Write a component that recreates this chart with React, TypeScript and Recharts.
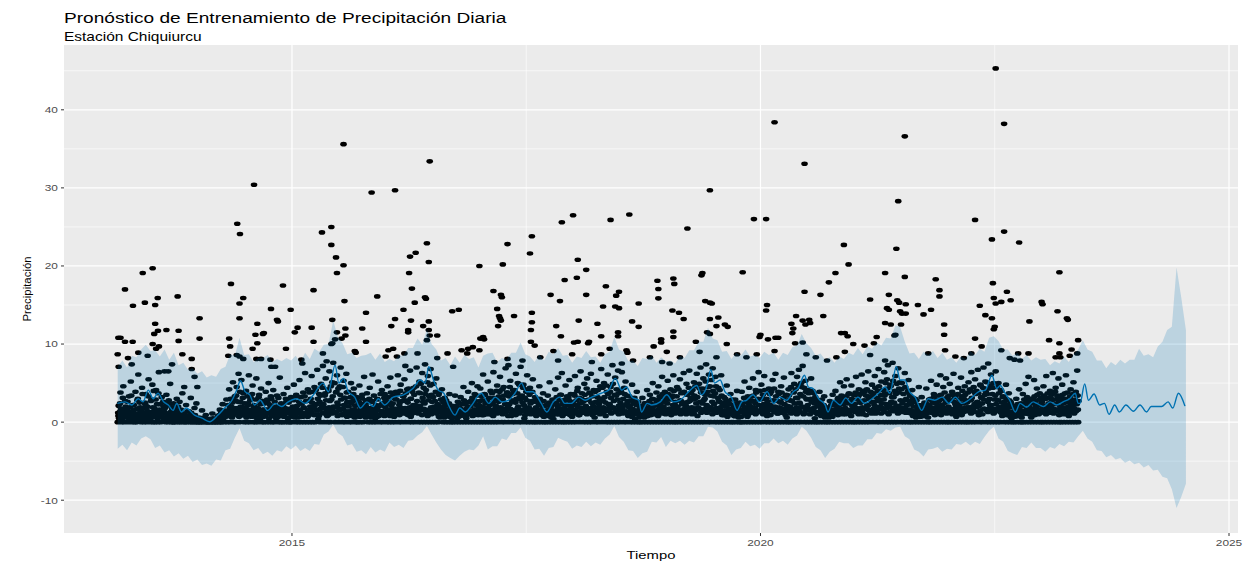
import React from 'react';
import { ComposedChart, Scatter, Line, Area, XAxis, YAxis, CartesianGrid } from 'recharts';

/* ── Tema ── */
const FONT = '"Liberation Sans", Arial, Helvetica, sans-serif';
const C = { panel: '#EBEBEB', grid: '#FFFFFF', azul: '#0072B2', punto: '#000000', eje: '#4D4D4D', tick: '#333333' };

/* ── Ejes ── */
const xTicks = [2015, 2020, 2025];
const xMenores = [2017.5, 2022.5];
const yTicks = [-10, 0, 10, 20, 30, 40];
const yMenores = [-5, 5, 15, 25, 35, 45];
const xDominio = [2012.567, 2025.096];
const yDominio = [-14.2, 48.3];

/* ── Intervalo de incertidumbre (cada 0.05 años desde 2013.14) ── */
const bandaInicio = 2013.14;
const bandaPaso = 0.05;
const bandaSup = [
  7.1, 7.9, 7.0, 8.5, 8.3, 9.3, 9.9, 9.1, 9.2, 8.4, 9.3, 8.0, 8.9, 7.3, 7.6, 6.7, 6.9, 6.2, 6.5, 5.7,
  6.0, 5.8, 6.8, 7.1, 8.7, 8.5, 10.8, 8.6, 8.7, 7.7, 8.2, 8.2, 8.6, 7.7, 8.1, 7.8, 8.2, 7.9, 8.5,
  7.6, 8.9, 8.1, 9.4, 9.0, 9.9, 10.0, 13.0, 10.9, 10.1, 8.7, 8.9, 8.2, 8.5, 8.6, 8.9, 8.0, 8.8, 7.7, 8.1,
  7.8, 8.6, 8.5, 9.5, 9.5, 10.7, 9.9, 11.9, 10.0, 9.3, 7.9, 8.2, 7.3, 8.4, 7.6, 8.6, 8.1, 8.3, 7.0,
  8.5, 8.8, 8.9, 7.7, 8.2, 8.0, 8.9, 8.9, 10.2, 8.7, 8.4, 7.7, 8.7, 7.9, 9.0, 8.7, 9.5, 8.5, 8.6, 7.6,
  8.4, 8.2, 9.1, 8.3, 8.4, 7.6, 8.7, 9.0, 10.9, 9.3, 9.0, 7.8, 7.9, 7.2, 8.2, 8.1, 8.5, 7.6, 8.3,
  7.8, 7.9, 7.5, 8.5, 8.2, 9.2, 9.2, 10.3, 10.3, 12.1, 10.7, 10.5, 9.0, 9.1, 8.1, 8.9, 8.5, 9.3, 8.4, 8.6,
  8.2, 9.0, 8.6, 8.9, 8.0, 8.9, 8.6, 9.6, 9.8, 11.3, 10.1, 9.5, 8.5, 8.8, 8.0, 8.3, 7.6, 8.4, 8.1,
  8.9, 8.6, 9.5, 8.7, 9.7, 9.4, 10.2, 9.8, 10.8, 10.7, 12.4, 12.2, 10.3, 8.8, 8.9, 8.1, 9.0, 8.6, 9.1, 8.2,
  8.9, 8.0, 8.3, 7.6, 8.4, 8.1, 9.1, 8.6, 9.4, 9.0, 10.8, 11.0, 10.4, 9.3, 9.3, 8.5, 8.9, 8.1, 8.6,
  7.9, 8.3, 8.0, 8.1, 7.3, 7.8, 7.5, 8.4, 7.7, 8.7, 9.3, 10.5, 9.3, 9.0, 7.9, 7.9, 6.9, 7.7, 7.3, 8.0,
  7.5, 8.0, 8.0, 9.4, 8.5, 8.7, 8.3, 9.7, 10.3, 11.8, 12.2, 19.8, 16.0, 11.8,
];
const bandaInf = [
  -3.4, -2.9, -3.6, -2.6, -3.0, -2.1, -1.8, -2.2, -3.3, -3.0, -3.9, -3.6, -4.4, -4.0, -4.7, -4.3, -5.1, -4.8, -5.5, -5.3,
  -5.6, -4.8, -4.9, -3.6, -3.4, -2.0, -0.8, -2.4, -2.7, -3.6, -3.3, -4.1, -3.8, -4.3, -3.6, -3.8, -3.1, -3.5, -3.0,
  -3.7, -3.3, -3.7, -2.8, -2.9, -1.6, -1.2, -0.3, -1.4, -1.8, -3.0, -2.8, -3.8, -3.6, -4.1, -3.2, -3.9, -3.5, -3.8, -2.6,
  -3.2, -2.9, -3.3, -2.4, -2.3, -1.7, -1.3, -0.5, -1.6, -2.6, -3.5, -4.2, -4.6, -4.9, -4.3, -3.8, -3.5, -3.6, -3.0,
  -1.8, -3.5, -3.1, -3.1, -2.1, -2.3, -1.4, -1.4, -0.7, -2.0, -2.4, -3.5, -3.4, -4.3, -3.3, -3.2, -2.0, -2.3, -2.5, -3.4,
  -3.0, -3.2, -2.5, -3.1, -2.6, -2.9, -2.1, -1.6, -0.5, -1.9, -2.5, -3.6, -3.7, -4.6, -4.0, -3.8, -2.5, -2.6, -1.9,
  -3.2, -2.4, -2.7, -2.4, -2.9, -2.4, -2.6, -1.8, -1.8, -0.6, -0.7, -1.2, -2.5, -3.0, -4.2, -3.5, -3.3, -2.5, -3.1, -2.9,
  -3.4, -2.7, -2.7, -2.1, -2.7, -2.4, -2.9, -2.1, -1.7, -0.6, -1.1, -2.0, -3.2, -3.6, -4.6, -3.8, -3.4, -2.5, -2.7,
  -2.7, -3.3, -3.0, -3.0, -2.2, -2.2, -1.4, -1.5, -0.9, -1.1, -0.7, -0.6, -1.8, -2.2, -3.5, -3.8, -4.4, -3.5, -3.4, -3.2,
  -3.8, -3.4, -3.5, -2.8, -2.9, -2.5, -3.0, -2.5, -2.8, -1.9, -1.1, -0.6, -2.1, -2.5, -3.7, -4.0, -4.2, -3.2, -3.3,
  -2.6, -3.3, -3.3, -3.8, -3.2, -3.4, -2.8, -3.1, -2.5, -2.6, -1.8, -1.1, -2.1, -2.5, -3.6, -3.7, -4.5, -4.2, -4.8, -4.6,
  -5.2, -4.9, -5.4, -5.2, -5.8, -5.5, -6.2, -6.1, -7.0, -7.2, -8.6, -11.0, -9.6, -7.9,
];

/* ── Pronóstico (yhat) ── */
const yhat: [number, number][] = [
  [2013.136, 2.4], [2013.218, 2.6], [2013.29, 2.2], [2013.36, 3.0], [2013.41, 2.6], [2013.467, 4.1], [2013.52, 3.0],
  [2013.57, 3.7], [2013.63, 2.6], [2013.68, 2.2], [2013.73, 1.5], [2013.77, 2.4], [2013.82, 1.3], [2013.87, 1.8],
  [2013.96, 0.9], [2014.04, 0.5], [2014.12, 0.05], [2014.21, 0.9], [2014.28, 1.8], [2014.36, 2.8], [2014.41, 4.1],
  [2014.45, 5.3], [2014.5, 3.9], [2014.55, 3.5], [2014.6, 2.2], [2014.66, 2.8], [2014.74, 1.5], [2014.82, 2.4],
  [2014.89, 2.0], [2014.96, 2.6], [2015.05, 3.0], [2015.14, 2.4], [2015.23, 3.5], [2015.33, 5.0], [2015.39, 3.9],
  [2015.46, 7.3], [2015.5, 5.0], [2015.55, 5.6], [2015.6, 3.9], [2015.67, 3.2], [2015.73, 1.8], [2015.8, 2.6],
  [2015.87, 2.0], [2015.92, 3.0], [2015.99, 2.2], [2016.08, 3.2], [2016.19, 3.5], [2016.29, 4.3], [2016.37, 5.4],
  [2016.42, 5.0], [2016.46, 7.1], [2016.51, 5.4], [2016.56, 4.1], [2016.62, 3.7], [2016.67, 2.2], [2016.74, 0.9],
  [2016.79, 1.8], [2016.85, 1.3], [2016.92, 2.2], [2017.02, 3.7], [2017.1, 2.4], [2017.17, 3.2], [2017.24, 2.6],
  [2017.31, 2.8], [2017.38, 3.7], [2017.45, 5.0], [2017.5, 3.9], [2017.57, 3.9], [2017.66, 2.4], [2017.72, 1.3],
  [2017.79, 2.6], [2017.86, 3.2], [2017.91, 2.4], [2017.98, 2.4], [2018.06, 3.2], [2018.13, 2.8], [2018.2, 3.2],
  [2018.3, 3.7], [2018.38, 4.1], [2018.45, 5.6], [2018.52, 4.1], [2018.57, 4.5], [2018.63, 3.2], [2018.7, 2.8],
  [2018.73, 1.3], [2018.79, 2.4], [2018.84, 2.2], [2018.93, 2.6], [2019.0, 3.5], [2019.07, 2.6], [2019.14, 2.8],
  [2019.25, 4.1], [2019.32, 4.7], [2019.37, 3.5], [2019.42, 4.3], [2019.47, 6.7], [2019.51, 5.0], [2019.57, 5.4],
  [2019.62, 3.9], [2019.69, 3.2], [2019.75, 1.5], [2019.8, 2.6], [2019.85, 2.8], [2019.92, 3.5], [2019.99, 2.6],
  [2020.07, 3.9], [2020.14, 2.4], [2020.21, 3.2], [2020.28, 2.8], [2020.35, 3.9], [2020.4, 4.3], [2020.47, 6.0],
  [2020.51, 4.5], [2020.56, 4.3], [2020.62, 3.0], [2020.69, 2.2], [2020.72, 1.3], [2020.78, 2.8], [2020.85, 2.2],
  [2020.91, 3.1], [2020.97, 2.4], [2021.04, 3.2], [2021.11, 2.4], [2021.19, 3.0], [2021.26, 3.7], [2021.33, 4.5],
  [2021.38, 3.7], [2021.45, 7.1], [2021.49, 5.4], [2021.54, 5.4], [2021.59, 3.9], [2021.65, 3.2], [2021.72, 1.5],
  [2021.79, 3.0], [2021.86, 2.8], [2021.94, 3.2], [2022.01, 2.4], [2022.08, 3.2], [2022.15, 2.4], [2022.22, 2.8],
  [2022.33, 3.9], [2022.4, 4.1], [2022.47, 6.0], [2022.52, 4.3], [2022.56, 4.7], [2022.61, 3.7], [2022.66, 2.8],
  [2022.72, 1.3], [2022.77, 2.4], [2022.84, 1.9], [2022.91, 2.6], [2022.95, 2.4], [2023.02, 2.0], [2023.09, 2.6],
  [2023.16, 2.2], [2023.23, 2.6], [2023.3, 3.0], [2023.36, 3.7], [2023.39, 2.4], [2023.41, 2.4], [2023.46, 4.9],
  [2023.5, 2.8], [2023.56, 3.6], [2023.62, 2.2], [2023.67, 2.4], [2023.72, 1.0], [2023.78, 2.2], [2023.83, 1.3],
  [2023.9, 2.2], [2023.98, 1.4], [2024.05, 2.2], [2024.12, 1.3], [2024.17, 2.0], [2024.28, 2.0], [2024.35, 2.6],
  [2024.4, 1.8], [2024.46, 3.7], [2024.53, 2.05],
];

/* ── Observaciones: días de lluvia intensa ── */
const picos: [number, number][] = [
  [2013.147, 10.8], [2013.17, 10.8], [2013.14, 8.7], [2013.15, 7.1], [2013.218, 17.0], [2013.218, 10.3], [2013.25, 8.2],
  [2013.29, 7.4], [2013.303, 14.9], [2013.3, 10.3], [2013.36, 8.9], [2013.407, 19.1], [2013.43, 15.3], [2013.46, 8.5],
  [2013.513, 19.7], [2013.513, 10.0], [2013.53, 11.3], [2013.54, 15.0], [2013.54, 12.6], [2013.55, 9.4], [2013.567, 15.9],
  [2013.57, 11.7], [2013.58, 9.7], [2013.64, 6.5], [2013.66, 11.8], [2013.68, 6.5], [2013.72, 7.4], [2013.78, 16.1],
  [2013.79, 11.7], [2013.79, 10.4], [2013.83, 8.7], [2013.85, 4.5], [2013.93, 8.1], [2013.93, 6.8], [2013.96, 5.8],
  [2013.99, 4.5],
  [2014.014, 13.3], [2014.014, 10.7], [2014.32, 8.5], [2014.33, 10.7], [2014.34, 9.7], [2014.349, 17.7], [2014.41, 8.6],
  [2014.416, 25.4], [2014.44, 15.2], [2014.44, 13.3], [2014.44, 8.4], [2014.445, 24.1], [2014.48, 15.9], [2014.48, 8.1],
  [2014.58, 9.4], [2014.595, 30.4], [2014.61, 11.2], [2014.62, 8.1], [2014.63, 12.6], [2014.63, 10.1], [2014.67, 8.1],
  [2014.69, 11.3], [2014.7, 11.4], [2014.77, 8.0], [2014.776, 14.5], [2014.78, 7.1], [2014.82, 7.1], [2014.84, 13.1],
  [2014.85, 12.9], [2014.904, 17.5], [2014.936, 9.4], [2014.986, 14.4],
  [2015.03, 11.5], [2015.06, 12.1], [2015.1, 8.0], [2015.11, 7.5], [2015.21, 12.1], [2015.23, 16.9], [2015.23, 10.3],
  [2015.32, 24.3], [2015.33, 8.8], [2015.37, 7.8], [2015.42, 25.0], [2015.42, 22.7], [2015.42, 10.0], [2015.43, 13.1],
  [2015.43, 10.1], [2015.46, 10.6], [2015.47, 21.1], [2015.48, 19.1], [2015.48, 11.5], [2015.53, 10.7], [2015.55, 35.6],
  [2015.55, 20.1], [2015.56, 15.5], [2015.57, 12.0], [2015.57, 11.1], [2015.67, 9.1], [2015.68, 8.9], [2015.75, 12.0],
  [2015.79, 14.0], [2015.79, 10.3], [2015.85, 29.4], [2015.91, 16.1],
  [2016.0, 8.4], [2016.03, 9.2], [2016.06, 12.3], [2016.08, 9.4], [2016.1, 29.7], [2016.1, 13.2], [2016.12, 8.4],
  [2016.19, 14.4], [2016.2, 8.8], [2016.21, 7.2], [2016.24, 11.5], [2016.24, 11.8], [2016.25, 19.1], [2016.26, 21.2],
  [2016.27, 13.0], [2016.28, 17.1], [2016.31, 15.3], [2016.32, 21.7], [2016.34, 8.8], [2016.4, 12.3], [2016.42, 16.0],
  [2016.43, 15.8], [2016.44, 22.9], [2016.44, 10.5], [2016.46, 20.5], [2016.46, 12.9], [2016.46, 11.8], [2016.47, 33.4],
  [2016.47, 11.1], [2016.55, 11.1], [2016.55, 8.2], [2016.66, 8.8], [2016.71, 14.2], [2016.72, 7.1], [2016.78, 14.4],
  [2016.81, 9.2], [2016.87, 8.8], [2016.88, 9.4], [2016.93, 9.6],
  [2017.0, 20.0], [2017.0, 9.2], [2017.01, 10.7], [2017.04, 10.9], [2017.05, 10.6], [2017.15, 16.8], [2017.16, 7.7],
  [2017.19, 14.5], [2017.2, 12.3], [2017.21, 13.6], [2017.22, 13.3], [2017.23, 13.0], [2017.23, 16.3], [2017.24, 16.0],
  [2017.25, 20.2], [2017.3, 22.8], [2017.3, 8.1], [2017.31, 7.3], [2017.37, 13.6], [2017.46, 7.9], [2017.54, 21.6],
  [2017.55, 11.8], [2017.55, 10.3], [2017.56, 23.8], [2017.56, 14.0], [2017.56, 12.8], [2017.59, 9.8], [2017.65, 8.3],
  [2017.76, 16.3], [2017.79, 9.1], [2017.82, 12.3], [2017.84, 7.9], [2017.86, 15.5], [2017.87, 11.0], [2017.88, 25.6],
  [2017.91, 18.2], [2017.99, 8.7],
  [2018.0, 26.5], [2018.01, 10.2], [2018.04, 18.5], [2018.05, 20.8], [2018.05, 10.3], [2018.06, 13.0], [2018.14, 19.5],
  [2018.14, 16.3], [2018.16, 10.1], [2018.17, 10.3], [2018.2, 7.7], [2018.26, 12.6], [2018.3, 11.0], [2018.3, 8.7],
  [2018.32, 14.8], [2018.35, 17.4], [2018.39, 9.4], [2018.4, 25.9], [2018.45, 14.8], [2018.46, 16.2], [2018.48, 11.5],
  [2018.48, 11.0], [2018.49, 16.7], [2018.49, 14.6], [2018.52, 7.5], [2018.57, 9.2], [2018.58, 8.9], [2018.6, 26.6],
  [2018.63, 12.9], [2018.64, 7.9], [2018.7, 15.2], [2018.7, 12.2], [2018.82, 8.3], [2018.86, 9.7], [2018.9, 18.1],
  [2018.91, 17.05], [2018.91, 15.85], [2018.94, 10.2], [2018.94, 10.6], [2018.95, 7.7],
  [2019.0, 9.0], [2019.03, 7.5], [2019.06, 14.3], [2019.07, 18.4], [2019.07, 11.6], [2019.07, 10.9], [2019.08, 17.7],
  [2019.13, 14.0], [2019.14, 8.3], [2019.18, 13.2], [2019.22, 24.8], [2019.31, 10.3], [2019.35, 9.0], [2019.37, 18.8],
  [2019.38, 19.1], [2019.41, 15.5], [2019.43, 11.5], [2019.46, 29.7], [2019.46, 15.3], [2019.46, 13.2], [2019.46, 11.3],
  [2019.48, 15.2], [2019.53, 12.3], [2019.53, 8.3], [2019.55, 13.4], [2019.62, 12.5], [2019.64, 10.0], [2019.65, 12.2],
  [2019.75, 8.7], [2019.81, 19.2], [2019.85, 8.3], [2019.93, 26.0], [2019.96, 8.7], [2019.99, 10.9],
  [2020.0, 11.2], [2020.06, 26.0], [2020.06, 14.3], [2020.07, 15.0], [2020.08, 10.6], [2020.15, 38.4], [2020.15, 9.1],
  [2020.16, 10.8], [2020.19, 10.8], [2020.33, 12.6], [2020.34, 11.4], [2020.35, 12.0], [2020.37, 10.1], [2020.38, 13.6],
  [2020.45, 13.0], [2020.45, 10.2], [2020.47, 33.1], [2020.47, 16.7], [2020.48, 12.5], [2020.49, 8.7], [2020.52, 13.1],
  [2020.53, 12.7], [2020.59, 8.3], [2020.64, 16.3], [2020.67, 13.6], [2020.71, 7.9], [2020.73, 17.9], [2020.8, 19.1],
  [2020.81, 8.3], [2020.86, 11.4], [2020.89, 22.7], [2020.9, 11.4], [2020.9, 9.0], [2020.93, 11.0], [2020.94, 20.2],
  [2020.99, 10.0],
  [2021.11, 9.8], [2021.17, 15.7], [2021.17, 8.6], [2021.21, 10.1], [2021.24, 10.9], [2021.33, 19.1], [2021.33, 12.7],
  [2021.33, 7.9], [2021.35, 14.6], [2021.37, 16.3], [2021.37, 14.4], [2021.39, 12.5], [2021.43, 11.1], [2021.44, 11.2],
  [2021.45, 22.2], [2021.46, 15.6], [2021.47, 28.3], [2021.48, 15.3], [2021.49, 14.2], [2021.5, 12.5], [2021.51, 13.9],
  [2021.54, 36.6], [2021.54, 18.6], [2021.55, 15.1], [2021.55, 13.9], [2021.68, 15.0], [2021.74, 13.8], [2021.79, 8.8],
  [2021.82, 14.4], [2021.87, 18.3], [2021.91, 16.9], [2021.91, 16.1], [2021.96, 12.5], [2021.96, 11.2], [2021.97, 9.2],
  [2022.08, 8.4], [2022.17, 8.2], [2022.25, 8.8], [2022.29, 25.9], [2022.29, 10.7], [2022.34, 14.9], [2022.36, 9.7],
  [2022.4, 13.7], [2022.47, 23.4], [2022.47, 13.3], [2022.48, 17.8], [2022.49, 15.9], [2022.49, 11.9], [2022.5, 12.2],
  [2022.51, 45.3], [2022.51, 15.2], [2022.57, 15.4], [2022.57, 9.2], [2022.6, 38.2], [2022.6, 24.4], [2022.63, 16.7],
  [2022.66, 8.2], [2022.67, 15.6], [2022.71, 8.0], [2022.75, 8.8], [2022.76, 23.0], [2022.77, 7.9], [2022.86, 8.8],
  [2022.87, 12.9],
  [2023.0, 15.4], [2023.01, 15.1], [2023.08, 10.5], [2023.15, 8.3], [2023.17, 14.2], [2023.19, 19.2], [2023.19, 10.1],
  [2023.19, 8.8], [2023.2, 8.3], [2023.27, 13.3], [2023.28, 13.1], [2023.3, 8.5], [2023.32, 9.3], [2023.38, 8.8],
  [2023.39, 10.5],
];

/* ── Observaciones: lluvia diaria baja, una lectura cada 0.01 años ── */
const lluvia2013 = [
  0, 2.1, 0.4, 3.8, 0, 1.2, 4.6, 0, 2.7, 0.8, 1.6, 0, 3.3, 0.5, 5.2, 0, 2.2, 1.0, 0, 3.9,
  0, 2.8, 6.1, 0.3, 1.9, 0, 4.4, 1.1, 0, 2.5, 3.6, 0, 1.4, 5.5, 0.7, 0, 2.9, 4.8, 0, 1.8,
  0, 4.1, 2.3, 0, 6.4, 1.0, 0, 3.2, 0.6, 2.0, 1.3, 0, 3.5, 0.2, 0, 2.4, 4.9, 0, 1.5, 0,
  0, 1.9, 0, 3.0, 0.4, 0, 2.6, 0, 1.1, 3.7, 0, 0.9, 0, 2.2, 0, 0.3, 1.4, 0, 3.1, 0,
  0.5, 0, 1.8, 0, 2.4, 0,
];
const lluvia2014 = [
  0, 0.6, 0, 0, 1.5, 0, 0.2, 0, 0.9, 0, 0, 0, 0.4, 0, 0, 1.1, 0, 0, 0.3, 0,
  0, 0.8, 0, 1.6, 0, 0, 2.3, 0.5, 0, 1.2, 2.9, 0, 1.4, 4.2, 0, 2.0, 0.6, 5.1, 0, 3.3,
  0, 4.5, 1.8, 6.2, 0, 2.6, 5.4, 0.9, 3.7, 0, 1.5, 4.0, 0, 2.4, 6.0, 0, 3.1, 0.7, 4.7, 0,
  2.2, 0, 5.6, 1.3, 0, 3.5, 0.4, 4.3, 0, 2.7, 0, 1.6, 3.9, 0, 2.5, 5.0, 0, 1.2, 3.0, 0,
  4.1, 0, 1.9, 0.5, 3.4, 0, 2.1, 5.7, 0, 1.0, 0, 3.6, 0.8, 0, 2.6, 4.4, 0, 1.7, 0, 3.2,
];
const lluvia2015 = [
  0, 2.0, 4.8, 0.6, 0, 3.3, 1.5, 0, 5.4, 2.4, 0, 1.1, 3.8, 0, 6.3, 2.7, 0, 4.2, 0.9, 0,
  3.0, 5.9, 0, 1.8, 4.5, 0, 2.3, 6.7, 0.4, 3.6, 0, 4.9, 2.1, 7.2, 0, 3.4, 5.6, 1.2, 0, 4.0,
  6.5, 0, 2.9, 5.1, 7.6, 1.4, 0, 3.8, 6.0, 2.2, 0, 4.6, 7.0, 1.7, 0, 5.3, 3.1, 0, 6.2, 2.5,
  3.9, 0, 1.3, 5.0, 0, 2.7, 4.3, 0.6, 0, 3.2, 0, 2.4, 4.7, 0, 1.6, 3.5, 0, 5.8, 0.8, 2.0,
  3.7, 0, 1.2, 4.4, 0, 2.6, 6.1, 0, 1.9, 0.5, 0, 3.0, 5.2, 0.9, 0, 2.2, 4.1, 0, 1.4, 3.6,
];
const lluvia2016 = [
  2.8, 0, 4.6, 1.3, 0, 5.7, 2.1, 0, 3.4, 0.7, 0, 3.9, 1.6, 6.0, 0, 2.5, 4.8, 0, 1.1, 3.3,
  5.5, 0, 2.7, 4.2, 0.9, 0, 6.6, 3.0, 0, 1.8, 4.4, 0, 2.2, 7.0, 1.5, 0, 5.2, 3.7, 0, 6.3,
  2.6, 0, 7.4, 4.1, 0, 5.9, 1.3, 0, 6.8, 3.5, 0, 4.9, 2.0, 0, 5.6, 1.7, 0, 3.8, 0.6, 2.9,
  4.2, 0, 1.5, 3.1, 0, 2.4, 0.8, 0, 3.6, 1.0, 0, 2.1, 0, 1.3, 3.4, 0, 0.7, 2.6, 0, 1.8,
  3.2, 0, 1.6, 4.5, 0, 2.3, 0.5, 0, 3.9, 1.2, 0, 2.7, 5.0, 0, 1.4, 3.6, 0, 2.2, 4.6, 0,
];
const lluvia2017 = [
  1.9, 4.3, 0, 2.8, 6.1, 0, 3.5, 1.0, 0, 5.2, 2.4, 0, 4.0, 1.5, 0, 6.4, 3.1, 0, 2.0, 4.7,
  0, 3.3, 5.8, 1.2, 0, 2.9, 4.5, 0, 6.9, 1.7, 3.8, 0, 2.3, 5.3, 0.8, 0, 4.1, 2.6, 0, 6.2,
  1.4, 5.0, 0, 3.2, 7.1, 0, 2.5, 4.8, 0.5, 0, 3.9, 6.0, 0, 1.8, 4.4, 0, 2.7, 5.5, 0, 1.1,
  0, 3.0, 1.6, 0, 4.6, 2.2, 0, 0.9, 3.7, 0, 2.1, 0, 1.0, 3.4, 0, 5.1, 1.8, 0, 2.9, 0.4,
  0, 4.2, 2.4, 0, 5.7, 1.3, 0, 3.5, 6.3, 0, 2.6, 0, 4.7, 1.1, 0, 3.1, 5.4, 0, 2.0, 0.7,
];
const lluvia2018 = [
  0, 3.6, 5.9, 0, 2.2, 4.4, 0.9, 0, 6.5, 3.0, 1.5, 0, 4.9, 2.8, 0, 5.6, 1.2, 0, 3.7, 6.2,
  0, 2.4, 4.1, 0.6, 0, 5.3, 3.2, 0, 1.9, 4.6, 6.8, 0, 2.7, 5.0, 1.4, 0, 3.9, 6.1, 0, 2.3,
  4.5, 0, 7.3, 1.8, 0, 5.7, 3.4, 0, 6.6, 2.1, 0, 4.0, 6.4, 1.1, 0, 3.6, 5.2, 0, 2.5, 0.8,
  3.3, 0, 1.7, 4.8, 0, 2.6, 0.4, 0, 3.9, 1.2, 0, 2.0, 0, 1.4, 3.1, 0, 0.6, 2.4, 0, 4.1,
  1.8, 0, 3.5, 0.9, 0, 5.0, 2.2, 0, 1.3, 3.8, 0, 4.6, 2.0, 0, 3.2, 5.8, 0, 1.5, 3.9, 0,
];
const lluvia2019 = [
  2.9, 5.3, 0, 1.6, 4.2, 0, 3.4, 6.0, 0, 2.1, 0, 4.5, 1.3, 0, 5.5, 2.7, 0, 3.8, 6.3, 0,
  1.9, 4.9, 0, 2.6, 6.6, 0, 3.7, 1.0, 0, 5.1, 3.0, 0, 6.2, 1.7, 0, 4.3, 7.0, 0, 2.4, 5.6,
  0, 3.5, 7.4, 2.0, 0, 6.1, 4.6, 0, 1.5, 6.9, 3.3, 0, 5.8, 1.2, 0, 4.4, 2.6, 0, 6.0, 0.9,
  0, 3.2, 1.5, 0, 4.7, 2.3, 0, 1.1, 3.6, 0, 1.7, 0, 0.8, 2.9, 0, 4.0, 1.3, 0, 2.5, 0,
  3.9, 0, 1.6, 5.2, 0, 2.8, 0.7, 0, 4.4, 2.0, 0, 3.3, 5.6, 0, 1.8, 4.1, 0, 2.9, 6.4, 0,
];
const lluvia2020 = [
  1.4, 4.8, 0, 3.0, 5.9, 0, 2.2, 0.8, 0, 4.3, 3.6, 0, 1.9, 5.4, 0, 2.7, 6.2, 0, 1.1, 3.9,
  0, 2.5, 4.6, 0, 1.3, 5.7, 0, 3.4, 0.6, 0, 4.2, 0, 2.8, 6.3, 0, 1.6, 4.9, 0, 3.1, 5.8,
  0, 6.7, 2.4, 0, 4.5, 7.2, 1.0, 0, 5.3, 3.0, 0, 4.1, 1.7, 0, 5.6, 2.9, 0, 3.7, 0.5, 0,
  2.8, 0, 1.2, 3.9, 0, 2.0, 0.9, 0, 3.3, 1.5, 0, 1.8, 0, 0.6, 2.7, 0, 1.4, 3.5, 0, 2.2,
  4.0, 0, 1.5, 3.1, 0, 5.1, 2.4, 0, 1.0, 4.6, 0, 2.8, 5.5, 0, 3.6, 1.2, 0, 4.7, 2.1, 0,
];
const lluvia2021 = [
  3.5, 0, 5.8, 1.6, 0, 4.2, 2.5, 0, 6.1, 1.0, 0, 3.9, 5.1, 0, 2.2, 6.5, 0, 3.3, 1.4, 4.8,
  0, 2.6, 5.9, 1.1, 0, 4.0, 6.8, 0, 2.9, 5.2, 1.8, 0, 6.4, 3.7, 0, 5.5, 7.3, 0, 2.3, 4.6,
  0, 7.6, 3.2, 0, 5.9, 2.1, 0, 6.9, 4.3, 1.5, 0, 5.0, 2.7, 0, 6.3, 1.2, 0, 3.8, 5.4, 0,
  2.4, 0, 4.1, 1.0, 0, 3.0, 0.6, 0, 2.1, 4.5, 0, 1.3, 3.2, 0, 0.8, 2.5, 0, 4.3, 1.6, 0,
  2.9, 0, 5.3, 1.7, 0, 3.6, 0.9, 0, 4.8, 2.2, 0, 3.4, 6.0, 0, 2.0, 4.5, 0, 1.3, 5.6, 0,
];
const lluvia2022 = [
  2.7, 0, 4.9, 1.5, 0, 3.5, 6.2, 0, 2.3, 0.7, 0, 4.4, 2.0, 0, 5.7, 1.1, 0, 3.0, 4.6, 0,
  1.9, 0, 5.1, 2.8, 0, 6.4, 1.4, 0, 3.9, 5.5, 0, 2.5, 6.7, 0.9, 0, 4.7, 3.1, 0, 7.0, 1.7,
  5.2, 0, 3.6, 7.5, 0, 2.2, 6.1, 0, 4.4, 1.2, 0, 6.5, 2.9, 0, 5.0, 1.6, 0, 4.0, 0.8, 3.3,
  0, 2.1, 4.8, 0, 1.4, 3.7, 0, 2.6, 0.5, 0, 1.9, 0, 0.7, 3.0, 0, 1.6, 4.2, 0, 2.4, 0,
  3.6, 0, 1.1, 4.9, 0, 2.7, 5.8, 0, 1.8, 0.6, 0, 3.0, 5.4, 0, 2.1, 4.3, 0, 1.0, 3.7, 0,
];
const lluvia2023 = [
  2.5, 0, 4.6, 1.2, 0, 5.9, 3.1, 0, 1.7, 4.0, 0, 2.8, 6.3, 0, 1.5, 4.4, 0, 3.3, 5.6, 0,
  2.0, 0, 4.8, 1.0, 0, 3.7, 6.0, 0, 2.6, 0.8, 0, 4.2, 1.9, 0, 5.1, 2.4, 0, 3.5, 6.6, 0,
];

/* ── Observaciones: lluvia ligera, intercalada medio paso después ── */
const ligera2013 = [
  1.2, 0.5, 2.4, 1.7, 0.3, 3.1, 0.9, 1.5, 2.0, 0.6, 2.6, 1.1, 0.4, 1.9, 3.4, 0.8, 1.4, 2.2, 0.5, 1.0,
  1.7, 3.0, 0.7, 2.5, 1.2, 0.3, 3.6, 1.8, 0.9, 2.3, 0.6, 2.0, 3.3, 1.3, 0.4, 2.7, 1.0, 1.9, 4.0, 0.8,
  2.9, 1.4, 0.5, 3.7, 1.6, 2.3, 0.7, 1.1, 2.6, 0.4, 1.8, 0.6, 2.2, 1.0, 2.8, 0.5, 1.3, 1.9, 0.3, 2.4,
  0.9, 1.5, 0.4, 1.2, 2.0, 0.7, 0.3, 1.6, 0.6, 1.1, 0.4, 1.0, 0.2, 0.7, 1.4, 0.3, 0.8, 0.5, 1.2, 0.2,
  0.6, 0.3, 0.9, 0.2, 0.5, 0.4,
];
const ligera2014 = [
  0.3, 0.2, 0.5, 0.1, 0.4, 0.2, 0.6, 0.3, 0.1, 0.2, 0.2, 0.4, 0.1, 0.3, 0.2, 0.5, 0.1, 0.3, 0.2, 0.4,
  0.5, 0.3, 0.9, 0.4, 1.2, 0.6, 0.8, 1.5, 0.7, 1.1, 1.4, 2.2, 0.8, 1.7, 3.0, 1.1, 2.5, 0.9, 1.8, 2.8,
  3.4, 1.3, 2.6, 0.7, 3.9, 2.0, 1.2, 3.1, 0.9, 2.4, 1.9, 0.6, 3.3, 2.2, 1.0, 2.8, 1.5, 3.6, 0.8, 2.1,
  1.3, 2.9, 0.5, 1.8, 3.2, 0.9, 2.3, 1.4, 2.7, 0.7, 2.4, 0.8, 1.6, 2.9, 1.1, 0.5, 2.2, 3.3, 1.0, 1.7,
  0.9, 2.6, 1.3, 2.0, 0.6, 3.1, 1.5, 0.8, 2.4, 1.9, 2.2, 0.7, 1.8, 3.0, 1.2, 0.5, 2.5, 1.4, 2.9, 0.8,
];
const ligera2015 = [
  1.6, 2.8, 0.9, 1.3, 3.5, 2.1, 0.6, 2.6, 1.1, 3.2, 2.4, 0.7, 1.9, 3.3, 1.2, 2.7, 0.8, 1.5, 3.8, 2.0,
  1.3, 2.5, 3.9, 0.9, 2.2, 4.1, 1.6, 3.0, 1.0, 2.6, 3.4, 1.8, 4.4, 2.3, 1.1, 3.7, 2.8, 0.8, 4.2, 1.9,
  2.7, 4.6, 1.5, 3.3, 2.0, 5.0, 1.2, 3.9, 2.5, 4.3, 1.7, 3.5, 2.9, 0.9, 4.5, 2.2, 3.1, 1.4, 3.8, 2.6,
  2.0, 1.1, 3.2, 2.4, 0.8, 3.6, 1.5, 2.1, 2.9, 1.2, 1.4, 2.6, 0.7, 1.9, 3.1, 1.0, 2.3, 1.6, 2.8, 0.9,
  2.5, 1.3, 3.0, 1.8, 0.6, 2.7, 1.9, 3.4, 1.1, 2.2, 1.7, 2.9, 0.8, 2.1, 3.6, 1.4, 2.4, 0.9, 3.1, 1.9,
];
const ligera2016 = [
  2.3, 1.0, 3.2, 2.6, 1.4, 3.8, 0.9, 2.4, 1.7, 3.0, 1.5, 2.9, 3.6, 1.1, 2.2, 4.0, 1.8, 2.7, 3.3, 1.2,
  2.8, 3.7, 1.4, 2.5, 4.3, 1.9, 3.0, 1.0, 3.9, 2.2, 3.5, 1.6, 4.6, 2.7, 1.3, 3.8, 2.1, 4.9, 1.7, 3.1,
  4.4, 2.4, 3.6, 1.5, 5.1, 2.8, 3.3, 4.7, 1.9, 2.6, 3.2, 1.4, 2.7, 3.9, 1.1, 2.3, 3.5, 1.7, 2.0, 2.9,
  1.8, 2.5, 0.9, 2.1, 2.8, 1.2, 1.6, 2.4, 0.7, 1.9, 1.2, 0.6, 1.7, 0.9, 1.4, 2.1, 0.5, 1.3, 1.8, 0.8,
  1.6, 2.3, 0.9, 2.8, 1.4, 0.7, 2.5, 1.9, 1.1, 2.6, 2.0, 1.3, 3.1, 2.4, 0.9, 2.7, 1.6, 3.4, 1.2, 2.2,
];
const ligera2017 = [
  2.7, 1.5, 3.3, 2.0, 0.9, 3.6, 2.4, 1.3, 2.9, 1.8, 3.1, 2.2, 1.0, 3.7, 2.5, 1.4, 3.0, 2.1, 4.0, 1.6,
  2.6, 3.9, 1.8, 2.9, 4.2, 1.3, 3.4, 2.3, 1.7, 3.8, 2.1, 3.3, 4.5, 1.6, 2.8, 3.6, 1.2, 4.1, 2.5, 3.0,
  3.7, 2.0, 4.8, 2.9, 1.5, 3.4, 4.4, 2.2, 3.1, 1.8, 2.8, 4.2, 1.9, 3.5, 2.4, 1.3, 3.9, 2.6, 1.6, 3.2,
  1.9, 2.6, 1.2, 2.3, 3.0, 1.5, 2.1, 1.0, 2.7, 1.4, 1.3, 2.2, 0.8, 1.6, 2.5, 1.1, 2.0, 1.4, 0.9, 2.3,
  2.4, 1.5, 3.2, 2.0, 1.0, 2.8, 3.5, 1.7, 2.3, 1.2, 1.8, 2.9, 1.1, 3.3, 2.2, 1.6, 2.7, 3.6, 1.3, 2.5,
];
const ligera2018 = [
  2.2, 3.4, 1.5, 2.8, 4.0, 1.9, 3.1, 2.4, 1.2, 3.7, 2.6, 1.4, 3.5, 2.1, 4.3, 1.8, 2.9, 3.8, 1.6, 2.5,
  3.3, 2.0, 1.3, 3.9, 2.6, 1.7, 4.1, 2.3, 3.0, 1.5, 2.8, 4.4, 1.9, 3.2, 2.5, 4.7, 1.6, 3.6, 2.2, 3.9,
  3.1, 1.8, 4.9, 2.7, 3.5, 1.4, 4.2, 2.9, 3.7, 2.1, 2.5, 3.8, 1.6, 3.0, 4.4, 2.2, 1.3, 3.4, 2.7, 1.9,
  2.1, 1.3, 2.8, 1.7, 2.4, 3.1, 1.0, 2.2, 1.5, 2.6, 1.1, 1.8, 0.7, 2.1, 1.4, 0.9, 2.4, 1.2, 1.7, 0.8,
  1.9, 2.7, 1.2, 2.3, 3.0, 1.5, 2.1, 2.9, 1.0, 2.5, 2.8, 1.6, 3.3, 2.4, 1.2, 3.6, 2.0, 2.7, 1.5, 3.1,
];
const ligera2019 = [
  2.4, 3.6, 1.7, 2.9, 1.3, 3.2, 2.2, 4.0, 1.8, 2.6, 3.3, 2.0, 4.2, 1.5, 2.8, 3.7, 2.3, 1.4, 3.9, 2.5,
  2.1, 3.5, 1.8, 4.4, 2.7, 3.1, 1.6, 4.1, 2.9, 3.4, 4.6, 2.4, 3.2, 1.9, 4.9, 2.6, 3.8, 1.5, 4.3, 2.8,
  3.0, 5.2, 2.2, 3.9, 4.5, 1.8, 3.4, 5.4, 2.6, 4.0, 2.3, 3.7, 4.6, 1.6, 3.1, 2.7, 4.1, 1.9, 3.4, 2.2,
  2.5, 1.4, 3.0, 2.0, 1.1, 2.7, 1.7, 2.3, 1.2, 2.9, 1.0, 2.1, 0.8, 1.5, 2.4, 0.9, 1.8, 1.3, 2.2, 0.7,
  2.2, 1.4, 3.1, 1.9, 2.6, 1.0, 3.3, 2.3, 1.6, 2.8, 1.5, 2.7, 3.4, 1.9, 2.4, 3.8, 1.3, 3.0, 2.2, 4.0,
];
const ligera2020 = [
  2.9, 1.8, 3.5, 2.3, 4.1, 1.4, 3.0, 2.6, 1.9, 3.7, 2.2, 3.9, 1.6, 2.8, 4.3, 2.0, 3.3, 1.5, 2.7, 3.6,
  1.9, 2.6, 3.8, 1.4, 3.1, 2.3, 1.7, 3.5, 2.1, 2.8, 3.4, 2.0, 4.5, 2.7, 1.6, 3.8, 2.4, 4.2, 1.9, 3.1,
  4.7, 2.5, 3.6, 5.0, 2.0, 3.3, 4.4, 1.8, 3.9, 2.9, 2.2, 3.7, 1.5, 3.0, 2.6, 4.0, 1.7, 2.4, 3.2, 1.3,
  2.0, 2.7, 1.1, 2.4, 1.6, 2.9, 1.3, 2.2, 0.9, 1.8, 1.2, 0.7, 1.9, 1.4, 0.9, 2.2, 1.0, 1.6, 2.5, 1.1,
  2.6, 1.7, 3.0, 2.1, 1.3, 2.8, 3.4, 1.5, 2.3, 3.1, 1.8, 3.3, 2.4, 1.2, 3.7, 2.6, 1.6, 3.0, 2.1, 3.5,
];
const ligera2021 = [
  2.3, 3.8, 1.6, 2.9, 3.3, 1.4, 3.6, 2.5, 1.9, 4.0, 2.8, 1.7, 3.4, 4.2, 2.1, 3.0, 1.5, 3.9, 2.6, 3.3,
  3.7, 2.2, 4.4, 1.8, 3.1, 2.7, 4.6, 2.0, 3.5, 2.4, 4.1, 2.9, 3.4, 5.0, 2.3, 4.3, 1.9, 3.7, 4.8, 2.6,
  3.2, 5.3, 2.5, 4.0, 3.6, 4.9, 2.1, 3.8, 5.1, 2.8, 4.2, 2.4, 3.6, 1.8, 4.5, 3.0, 2.2, 4.0, 2.7, 3.4,
  2.3, 1.5, 3.1, 2.0, 2.6, 1.2, 2.8, 1.7, 2.2, 1.4, 1.6, 0.9, 2.2, 1.3, 1.9, 0.8, 2.4, 1.1, 1.7, 2.0,
  2.2, 3.0, 1.4, 2.6, 1.8, 3.3, 2.4, 1.2, 2.9, 2.0, 2.7, 1.6, 3.5, 2.2, 3.0, 1.8, 3.8, 2.5, 1.4, 3.2,
];
const ligera2022 = [
  2.0, 3.4, 1.7, 2.8, 3.9, 1.5, 2.6, 3.2, 1.9, 2.4, 3.6, 2.1, 2.9, 1.6, 3.3, 4.0, 2.4, 1.8, 3.5, 2.7,
  2.5, 3.8, 1.9, 4.2, 2.8, 3.1, 2.0, 4.5, 2.3, 3.6, 4.0, 2.6, 3.7, 2.1, 4.8, 3.2, 2.4, 4.4, 2.9, 3.5,
  3.9, 5.1, 2.6, 4.3, 3.0, 4.7, 2.2, 3.6, 5.0, 2.9, 3.4, 2.3, 4.5, 2.8, 3.7, 1.9, 4.1, 2.5, 3.2, 2.0,
  2.6, 1.7, 3.0, 2.2, 1.4, 2.8, 1.9, 2.4, 1.1, 2.1, 1.4, 2.0, 0.9, 1.6, 2.3, 1.1, 1.8, 0.8, 2.2, 1.3,
  2.1, 2.9, 1.5, 2.5, 3.2, 1.7, 2.3, 3.0, 1.2, 2.6, 2.4, 1.6, 3.3, 2.7, 1.9, 3.5, 2.2, 2.9, 1.5, 3.1,
];
const ligera2023 = [
  2.6, 1.8, 3.4, 2.1, 3.0, 1.5, 3.7, 2.4, 1.9, 3.2, 2.2, 3.6, 1.7, 2.9, 3.9, 2.3, 1.6, 3.4, 2.7, 3.1,
  2.8, 1.9, 3.5, 2.4, 1.3, 3.0, 2.6, 3.8, 2.0, 2.5, 3.3, 2.1, 2.8, 3.6, 1.8, 2.9, 3.9, 2.3, 3.4, 2.7,
];

/* ── Observaciones: llovizna, una lectura cada 0.02 años ── */
const llovizna2013 = [
  0.8, 1.4, 0.5, 1.1, 1.7, 0.6, 1.2, 0.9, 1.5, 0.4, 1.0, 1.6, 0.7, 1.3, 0.5, 1.8, 0.9, 1.2, 0.6, 1.4,
  1.0, 0.5, 1.3, 0.8, 1.5, 0.6, 1.1, 0.4, 0.9, 1.2, 0.5, 0.8, 0.3, 0.7, 1.0, 0.4, 0.6, 0.3, 0.8, 0.5,
  0.3, 0.6, 0.4,
];
const llovizna2014 = [
  0.3, 0.2, 0.4, 0.2, 0.3, 0.1, 0.3, 0.2, 0.4, 0.2, 0.4, 0.6, 0.5, 0.9, 0.7, 1.1, 0.8, 1.3, 1.0, 1.5,
  1.2, 1.7, 0.9, 1.4, 1.8, 1.1, 1.6, 0.8, 1.3, 1.7, 1.0, 1.5, 0.7, 1.2, 1.6, 0.9, 1.4, 1.1, 1.7, 0.8,
  1.3, 0.7, 1.6, 1.0, 1.4, 0.8, 1.5, 1.2, 0.6, 1.1,
];
const llovizna2015 = [
  1.4, 0.8, 1.7, 1.1, 1.5, 0.9, 1.8, 1.2, 0.7, 1.6, 1.3, 1.9, 1.0, 1.5, 0.8, 1.7, 1.2, 1.8, 1.4, 0.9,
  1.6, 1.1, 1.9, 1.3, 0.8, 1.5, 1.0, 1.7, 1.2, 0.7, 1.4, 0.9, 1.6, 1.1, 1.5, 0.8, 1.3, 1.7, 1.0, 0.6,
  1.2, 1.6, 0.9, 1.4, 1.1, 0.7, 1.5, 1.0, 1.3, 0.8,
];
const llovizna2016 = [
  1.1, 1.6, 0.8, 1.4, 1.0, 1.7, 1.3, 0.9, 1.5, 1.2, 1.8, 1.0, 1.4, 0.7, 1.6, 1.2, 1.9, 1.1, 1.5, 0.9,
  1.7, 1.3, 0.8, 1.6, 1.0, 1.4, 1.8, 1.2, 0.7, 1.5, 1.1, 0.6, 1.3, 0.9, 1.2, 0.5, 1.0, 1.4, 0.7, 1.1,
  1.5, 0.9, 1.3, 1.7, 1.0, 1.4, 0.8, 1.6, 1.2, 0.9,
];
const llovizna2017 = [
  1.3, 0.9, 1.6, 1.2, 1.8, 1.0, 1.5, 0.8, 1.7, 1.1, 1.4, 1.9, 1.0, 1.6, 1.3, 0.8, 1.7, 1.2, 1.5, 0.9,
  1.8, 1.1, 1.4, 1.6, 0.9, 1.3, 1.7, 1.0, 1.5, 1.2, 0.8, 1.3, 1.0, 1.5, 0.7, 1.2, 0.9, 1.4, 0.6, 1.1,
  1.4, 1.0, 1.7, 1.2, 0.8, 1.5, 1.1, 1.6, 0.9, 1.3,
];
const llovizna2018 = [
  1.6, 1.1, 1.4, 0.9, 1.8, 1.2, 1.5, 1.0, 1.7, 1.3, 0.9, 1.5, 1.2, 1.8, 1.0, 1.6, 1.3, 0.8, 1.7, 1.4,
  1.1, 1.9, 1.3, 1.6, 1.0, 1.5, 1.8, 1.2, 1.4, 0.9, 1.2, 0.7, 1.4, 1.0, 1.3, 0.6, 1.1, 0.9, 1.5, 0.8,
  1.3, 1.7, 1.0, 1.5, 1.2, 0.8, 1.6, 1.1, 1.4, 1.0,
];
const llovizna2019 = [
  1.2, 1.7, 0.9, 1.5, 1.1, 1.8, 1.3, 1.0, 1.6, 1.4, 1.0, 1.6, 1.3, 1.9, 1.1, 1.5, 0.8, 1.7, 1.2, 1.4,
  1.7, 1.2, 1.5, 1.9, 1.0, 1.4, 1.8, 1.3, 1.6, 1.1, 0.9, 1.3, 0.7, 1.2, 1.0, 1.4, 0.8, 1.1, 0.6, 1.3,
  1.5, 1.1, 1.6, 0.9, 1.4, 1.2, 1.7, 1.0, 1.5, 1.3,
];
const llovizna2020 = [
  1.4, 1.0, 1.7, 1.2, 1.5, 0.9, 1.6, 1.3, 1.8, 1.1, 1.5, 1.2, 1.7, 0.9, 1.4, 1.8, 1.1, 1.6, 1.3, 1.0,
  1.6, 1.3, 1.9, 1.1, 1.5, 1.7, 1.0, 1.4, 1.8, 1.2, 1.0, 1.3, 0.8, 1.2, 0.6, 1.1, 0.9, 1.4, 0.7, 1.2,
  1.4, 0.9, 1.6, 1.2, 1.7, 1.0, 1.5, 1.3, 0.8, 1.5,
];
const llovizna2021 = [
  1.3, 1.8, 1.0, 1.5, 1.2, 1.7, 0.9, 1.6, 1.4, 1.1, 1.7, 1.2, 1.5, 1.9, 1.1, 1.6, 1.3, 1.8, 1.0, 1.4,
  1.8, 1.4, 1.6, 1.1, 1.9, 1.3, 1.5, 1.7, 1.2, 1.6, 1.1, 0.8, 1.3, 1.0, 1.2, 0.7, 1.4, 0.9, 1.1, 0.6,
  1.5, 1.2, 1.7, 1.0, 1.4, 1.6, 0.9, 1.3, 1.5, 1.1,
];
const llovizna2022 = [
  1.2, 1.6, 1.0, 1.4, 1.7, 1.1, 1.5, 0.9, 1.3, 1.6, 1.4, 1.8, 1.1, 1.6, 1.3, 1.9, 1.2, 1.5, 1.0, 1.7,
  1.6, 1.3, 1.8, 1.5, 1.1, 1.7, 1.4, 1.9, 1.2, 1.5, 1.2, 0.9, 1.3, 0.7, 1.1, 1.0, 1.4, 0.8, 1.2, 0.6,
  1.4, 1.1, 1.6, 1.0, 1.5, 1.3, 0.9, 1.7, 1.2, 1.4,
];
const llovizna2023 = [
  1.3, 1.7, 1.0, 1.5, 1.2, 1.8, 1.1, 1.6, 1.4, 0.9, 1.6, 1.2, 1.8, 1.0, 1.5, 1.3, 1.7, 1.1, 1.4, 1.6,
];

/* [inicio, paso, lecturas] */
const lluviaPorAnio: [number, number, number[]][] = [
  [2013.14, 0.01, lluvia2013], [2014, 0.01, lluvia2014], [2015, 0.01, lluvia2015], [2016, 0.01, lluvia2016],
  [2017, 0.01, lluvia2017], [2018, 0.01, lluvia2018], [2019, 0.01, lluvia2019], [2020, 0.01, lluvia2020],
  [2021, 0.01, lluvia2021], [2022, 0.01, lluvia2022], [2023, 0.01, lluvia2023],
  [2013.145, 0.01, ligera2013], [2014.005, 0.01, ligera2014], [2015.005, 0.01, ligera2015], [2016.005, 0.01, ligera2016],
  [2017.005, 0.01, ligera2017], [2018.005, 0.01, ligera2018], [2019.005, 0.01, ligera2019], [2020.005, 0.01, ligera2020],
  [2021.005, 0.01, ligera2021], [2022.005, 0.01, ligera2022], [2023.005, 0.01, ligera2023],
  [2013.1475, 0.02, llovizna2013], [2014.0075, 0.02, llovizna2014], [2015.0075, 0.02, llovizna2015],
  [2016.0075, 0.02, llovizna2016], [2017.0075, 0.02, llovizna2017], [2018.0075, 0.02, llovizna2018],
  [2019.0075, 0.02, llovizna2019], [2020.0075, 0.02, llovizna2020], [2021.0075, 0.02, llovizna2021],
  [2022.0075, 0.02, llovizna2022], [2023.0075, 0.02, llovizna2023],
];

/* ── Tablas para Recharts ── */
const bandaRows = bandaSup.map((hi, i) => ({ t: bandaInicio + i * bandaPaso, lo: bandaInf[i], hi }));
const yhatRows = yhat.map(([t, v]) => ({ t, v }));
const puntosRows = [
  ...lluviaPorAnio.flatMap(([inicio, paso, vals]) => vals.map((y, i) => ({ t: inicio + i * paso, y }))),
  ...picos.map(([t, y]) => ({ t, y })),
];

const Punto = (p: any) =>
  p.cx == null || p.cy == null ? null : <ellipse cx={p.cx} cy={p.cy} rx={3.3} ry={2.3} fill={C.punto} />;

const TickX = ({ x, y, payload }: any) => (
  <text x={x} y={y} dy={8} textAnchor="middle" fill={C.eje} fontSize={9.5} fontFamily={FONT}
    transform={`translate(${x} 0) scale(1.25 1) translate(${-x} 0)`}>{payload.value}</text>
);
const TickY = ({ x, y, payload }: any) => (
  <text x={x} y={y} dy={3.4} textAnchor="end" fill={C.eje} fontSize={9.5} fontFamily={FONT}
    transform={`translate(${x} 0) scale(1.25 1) translate(${-x} 0)`}>{payload.value}</text>
);

const txt = (extra: React.CSSProperties): React.CSSProperties => ({
  position: 'absolute', fontFamily: FONT, lineHeight: 1, whiteSpace: 'nowrap', color: '#000', ...extra,
});

export default function App() {
  return (
    <div style={{ position: 'absolute', left: 0, top: 0, width: 1243, height: 563, background: '#FFFFFF' }}>
      <ComposedChart width={1243} height={563} margin={{ top: 45, right: 5, bottom: 10, left: 0 }}>
        <CartesianGrid fill={C.panel} stroke={C.grid} strokeWidth={0.6} horizontalValues={yMenores} verticalValues={xMenores} />
        <CartesianGrid stroke={C.grid} strokeWidth={1.2} horizontalValues={yTicks} verticalValues={xTicks} />
        <XAxis type="number" dataKey="t" domain={xDominio} ticks={xTicks} interval={0} allowDataOverflow height={20}
          axisLine={false} tickSize={3} tickMargin={2} tickLine={{ stroke: C.tick }} tick={<TickX />} />
        <YAxis type="number" domain={yDominio} ticks={yTicks} interval={0} allowDataOverflow width={64}
          axisLine={false} tickSize={3} tickMargin={3} tickLine={{ stroke: C.tick }} tick={<TickY />} />
        <Scatter data={puntosRows} dataKey="y" shape={Punto} isAnimationActive={false} />
        <Line data={yhatRows} dataKey="v" type="monotone" stroke={C.azul} strokeWidth={1.4} dot={false}
          isAnimationActive={false} {...({ zIndex: 700 } as any)} />
        <Area data={bandaRows} dataKey={(d: any) => [d.lo, d.hi]} type="linear" fill={C.azul} fillOpacity={0.2}
          stroke="none" isAnimationActive={false} {...({ zIndex: 800 } as any)} />
      </ComposedChart>
      <div style={txt({ left: 64, top: 9.7, fontSize: 15.4, transform: 'scaleX(1.24)', transformOrigin: 'left top' })}>
        Pronóstico de Entrenamiento de Precipitación Diaria
      </div>
      <div style={txt({ left: 64, top: 30, fontSize: 13, transform: 'scaleX(1.19)', transformOrigin: 'left top' })}>
        Estación Chiquiurcu
      </div>
      <div style={txt({ left: 551, width: 200, top: 550, fontSize: 11.4, textAlign: 'center', transform: 'scaleX(1.3)' })}>
        Tiempo
      </div>
      <div style={txt({ left: 27.5, top: 289, fontSize: 11.4, transform: 'translate(-50%, -50%) rotate(-90deg)' })}>
        Precipitación
      </div>
    </div>
  );
}
